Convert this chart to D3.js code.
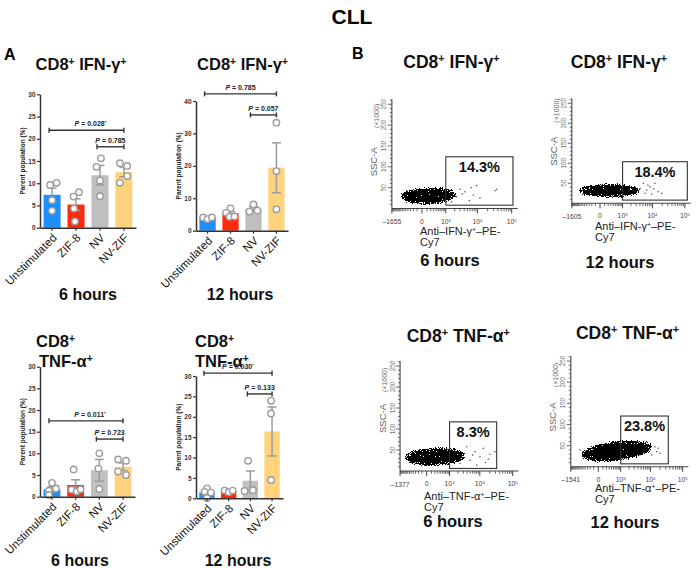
<!DOCTYPE html>
<html><head><meta charset="utf-8">
<script src="https://cdn.jsdelivr.net/npm/d3@7"></script>
<style>
body{margin:0;background:#fff}
svg{display:block;font-family:"Liberation Sans",Arial,Helvetica,sans-serif}
</style></head><body>
<svg id="chart" width="700" height="568"></svg>
<script>
// ---------------- data ----------------
const categories = ["Unstimulated", "ZIF-8", "NV", "NV-ZIF"];

const ifn6Means = [7.4, 5.2, 11.8, 12.5];
const ifn6Sem = [1.5, 1.3, 2.2, 1.05];
const ifn6Points = [[10.1, 9.6, 6.2, 3.8], [8.0, 7.0, 4.3, 1.4], [15.6, 13.7, 10.6, 7.1], [14.5, 13.9, 11.6, 10.1]];
const ifn6Sig = ["P = 0.028*", "P = 0.785"];

const ifn12Means = [4.0, 5.3, 6.7, 19.4];
const ifn12Sem = [0.2, 0.6, 0.7, 7.7];
const ifn12Points = [[4.1, 3.6, 4.1], [6.9, 5.5, 4.3, 4.4], [8.1, 5.9, 6.2], [33.3, 18.4, 6.6]];
const ifn12Sig = ["P = 0.785", "P = 0.057"];

const tnf6Means = [1.7, 2.7, 6.1, 6.9];
const tnf6Sem = [0.6, 1.2, 2.5, 0.9];
const tnf6Points = [[3.2, 1.9, 1.4, 0.4], [6.3, 1.6, 1.2, 1.7], [10.0, 6.5, 1.8], [8.6, 8.3, 5.8, 5.0]];
const tnf6Sig = ["P = 0.011*", "P = 0.723"];

const tnf12Means = [1.4, 1.8, 4.3, 16.4];
const tnf12Sem = [0.5, 0.13, 2.4, 6.0];
const tnf12Points = [[2.45, 1.6, 1.4, 0.05], [1.9, 1.5, 1.9], [9.2, 1.8, 2.0], [23.9, 20.8, 4.5]];
const tnf12Sig = ["P = 0.030*", "P = 0.133"];

const yTicks30 = [0, 5, 10, 15, 20, 25, 30];
const yTicks40 = [0, 10, 20, 30, 40];
const timeLabels = ["6 hours", "12 hours"];

// flow cytometry panels
const flowPercent = ["14.3%", "18.4%", "8.3%", "23.8%"];
const flowXMin = [-1655, -1605, -1377, -1541];
const flowXMajor = [0, 1000, 10000, 100000];
const flowXMajorSup = ["", "3", "4", "5"];
const flowYTicks = [50, 100, 150, 200, 250];
const flowGateX = [[1000, 109000], [1000, 118000], [1000, 32800], [1000, 36000]];
const flowGateY = [[8, 124], [8, 104], [6, 117], [7, 120]];
const flowCloudX = [[-1150, 2900], [-1250, 5400], [-1250, 4500], [-850, 15000]];
const flowCloudY = [[5, 56], [9, 54], [7, 61], [9, 66]];
const flowOutliers1 = [[9543, 55], [32800, 43], [7560, 32], [4242, 40], [5730, 19], [2333, 28], [2970, 46], [11900, 25], [1600, 16], [36800, 46], [3500, 35], [6500, 50]];
const flowOutliers2 = [[5134, 50], [8360, 41], [12000, 50], [5800, 25], [15100, 29], [19300, 25], [9440, 23], [4030, 37], [6580, 33], [7200, 45], [11000, 36]];
const flowOutliers3 = [[3870, 58], [7100, 46], [12800, 54], [20500, 40], [29200, 46], [10100, 34], [4920, 26], [18200, 28], [2340, 18], [8000, 14], [6000, 38], [15000, 20]];
const flowOutliers4 = [[6740, 47], [9700, 40], [15700, 36], [19900, 32], [4640, 28], [11000, 28], [5940, 56], [13900, 47], [-681, 40], [-488, 24], [8200, 52], [17500, 44]];
const flowOutliers = [flowOutliers1, flowOutliers2, flowOutliers3, flowOutliers4];

// ---------------- styles / layout ----------------
const barColors = ["#1e8fff", "#ff2a0a", "#bfbfbf", "#ffd27d"];
const svg = d3.select("#chart");

const defs = svg.append("defs");
const filt = defs.append("filter").attr("id", "speck").attr("filterUnits", "userSpaceOnUse")
  .attr("x", 0).attr("y", 0).attr("width", 700).attr("height", 568)
  .attr("color-interpolation-filters", "sRGB");
filt.append("feGaussianBlur").attr("in", "SourceAlpha").attr("stdDeviation", 3.0).attr("result", "b");
filt.append("feTurbulence").attr("type", "fractalNoise").attr("baseFrequency", 0.85).attr("numOctaves", 1).attr("seed", 11).attr("result", "n");
filt.append("feColorMatrix").attr("in", "n").attr("type", "matrix")
  .attr("values", "0 0 0 0 0  0 0 0 0 0  0 0 0 0 0  1 0 0 0 0").attr("result", "nA");
filt.append("feComposite").attr("in", "b").attr("in2", "nA").attr("operator", "arithmetic")
  .attr("k1", 3.0).attr("k2", 1.6).attr("k3", 0).attr("k4", -1.9).attr("result", "s");
filt.append("feComponentTransfer").attr("in", "s").attr("result", "t")
  .append("feFuncA").attr("type", "discrete").attr("tableValues", "0 1");
filt.append("feFlood").attr("flood-color", "#000").attr("result", "fl");
filt.append("feComposite").attr("in", "fl").attr("in2", "t").attr("operator", "in");

function rich(sel, parts) {
  parts.forEach(p => {
    const t = sel.append("tspan").text(p.t);
    if (p.sup) t.attr("baseline-shift", "super").attr("font-size", "62%");
    if (p.it) t.attr("font-style", "italic");
  });
  return sel;
}
const ifnParts = [{t: "CD8"}, {t: "+", sup: 1}, {t: " IFN-γ"}, {t: "+", sup: 1}];
const tnfParts = [{t: "CD8"}, {t: "+", sup: 1}, {t: " TNF-α"}, {t: "+", sup: 1}];

// Main title and panel letters
svg.append("text").attr("x", 352).attr("y", 24).attr("text-anchor", "middle")
  .attr("font-size", 21).attr("font-weight", "bold").text("CLL");
svg.append("text").attr("x", 4).attr("y", 60).attr("font-size", 16).attr("font-weight", "bold").text("A");
svg.append("text").attr("x", 352).attr("y", 58.5).attr("font-size", 16).attr("font-weight", "bold").text("B");

// ---------------- bar panels ----------------
function barPanel(L, means, sems, pts, sig) {
  const g = svg.append("g");
  const x = d3.scaleBand().domain(categories).range([L.x0, L.x1]).paddingInner(0.29).paddingOuter(0.15);
  const y = d3.scaleLinear().domain([0, L.yMax]).range([L.y0, L.yTop]);
  const cx = i => x(categories[i]) + x.bandwidth() / 2;

  g.selectAll("rect.bar").data(means).join("rect").attr("class", "bar")
    .attr("x", (d, i) => x(categories[i])).attr("y", d => y(d))
    .attr("width", x.bandwidth()).attr("height", d => L.y0 - y(d))
    .attr("fill", (d, i) => barColors[i]);

  // error bars
  const eg = g.append("g").attr("stroke", "#9b9b9b").attr("stroke-width", 1.5).attr("fill", "none");
  means.forEach((m, i) => {
    const top = y(m + sems[i]), bot = y(Math.max(0, m - sems[i]));
    eg.append("line").attr("x1", cx(i)).attr("x2", cx(i)).attr("y1", top).attr("y2", bot);
    eg.append("line").attr("x1", cx(i) - 4.5).attr("x2", cx(i) + 4.5).attr("y1", top).attr("y2", top);
    eg.append("line").attr("x1", cx(i) - 4.5).attr("x2", cx(i) + 4.5).attr("y1", bot).attr("y2", bot);
  });

  // points
  pts.forEach((arr, i) => {
    g.selectAll(null).data(arr).join("circle")
      .attr("cx", (d, j) => cx(i) + L.jitter[i][j]).attr("cy", d => y(d)).attr("r", 3.2)
      .attr("fill", "#fff").attr("stroke", "#9b9b9b").attr("stroke-width", 1.4);
  });

  // y axis
  const ya = g.append("g").attr("transform", `translate(${L.x0},0)`)
    .call(d3.axisLeft(y).tickValues(L.ticks).tickSize(3).tickSizeOuter(0).tickPadding(1.5));
  ya.select(".domain").attr("stroke", "#333").attr("stroke-width", 1.5);
  ya.selectAll(".tick line").attr("stroke", "#333").attr("stroke-width", 1.2);
  ya.selectAll(".tick text").attr("font-size", 6.5).attr("font-weight", "bold").attr("fill", "#333")
    .attr("font-family", "Liberation Sans, Arial, sans-serif");

  // x axis
  const xa = g.append("g").attr("transform", `translate(0,${L.y0})`)
    .call(d3.axisBottom(x).tickSize(3).tickSizeOuter(0).tickFormat(""));
  xa.select(".domain").attr("stroke", "#333").attr("stroke-width", 1.5);
  xa.selectAll(".tick line").attr("stroke", "#333").attr("stroke-width", 1.2);
  categories.forEach((c, i) => {
    g.append("text").attr("transform", `translate(${cx(i) + 2.5},${L.y0 + 8}) rotate(-45)`)
      .attr("text-anchor", "end").attr("dy", "0.35em").attr("font-size", 11.5).attr("fill", "#111").text(c);
  });

  // y label
  g.append("text").attr("transform", `translate(${L.x0 - 15.5},${(L.y0 + L.yTop) / 2}) rotate(-90)`)
    .attr("text-anchor", "middle").attr("font-size", 6.5).attr("font-weight", "bold").attr("fill", "#222")
    .text("Parent population (%)");

  // significance brackets
  L.sig.forEach((s, k) => {
    const yy = y(s.v), xa1 = cx(s.a) - 3, xb = cx(s.b);
    const bg = g.append("g").attr("stroke", "#333").attr("stroke-width", 1.4);
    bg.append("line").attr("x1", xa1).attr("x2", xb).attr("y1", yy).attr("y2", yy);
    bg.append("line").attr("x1", xa1).attr("x2", xa1).attr("y1", yy - 2.5).attr("y2", yy + 2.5);
    bg.append("line").attr("x1", xb).attr("x2", xb).attr("y1", yy - 2.5).attr("y2", yy + 2.5);
    const lab = sig[k];
    const t = g.append("text").attr("x", (xa1 + xb) / 2 + s.dx).attr("y", yy - 4)
      .attr("text-anchor", "middle").attr("font-size", 7).attr("font-weight", "bold").attr("fill", "#222");
    const star = lab.endsWith("*");
    rich(t, [{t: "P", it: 1}, {t: lab.slice(1, star ? -1 : undefined)}].concat(star ? [{t: "*", sup: 1}] : []));
  });

  // title
  L.title.forEach(tl => {
    const t = g.append("text").attr("x", tl.x).attr("y", tl.y).attr("text-anchor", tl.anchor)
      .attr("font-size", 16.5).attr("font-weight", "bold").attr("fill", "#111");
    rich(t, tl.parts);
  });
  g.append("text").attr("x", L.time.x).attr("y", L.time.y).attr("text-anchor", "middle")
    .attr("font-size", 16).attr("font-weight", "bold").attr("fill", "#111").text(L.time.t);
}

barPanel({x0: 40, x1: 136, y0: 227.7, yTop: 94.3, yMax: 30, ticks: yTicks30,
  jitter: [[4.5, -2, 0, 0], [3, -2.5, -2, -1], [1, -3.5, 0, 0], [-4, 3.3, 3.3, -4]],
  sig: [{a: 0, b: 3, v: 21.9, dx: 4}, {a: 2, b: 3, v: 18.2, dx: 0}],
  title: [{x: 81, y: 69.5, anchor: "middle", parts: ifnParts}],
  time: {x: 88, y: 300, t: timeLabels[0]}}, ifn6Means, ifn6Sem, ifn6Points, ifn6Sig);

barPanel({x0: 196, x1: 288, y0: 230.7, yTop: 101, yMax: 40, ticks: yTicks40,
  jitter: [[-4.5, 0, 4.3], [0, -4.5, -1, 4], [0, -4, 4], [0, 0, 0]],
  sig: [{a: 0, b: 3, v: 42.2, dx: 0}, {a: 2, b: 3, v: 35.7, dx: 0}],
  title: [{x: 242.5, y: 69.5, anchor: "middle", parts: ifnParts}],
  time: {x: 240, y: 300, t: timeLabels[1]}}, ifn12Means, ifn12Sem, ifn12Points, ifn12Sig);

barPanel({x0: 40, x1: 135, y0: 496.7, yTop: 366.7, yMax: 30, ticks: yTicks30,
  jitter: [[0, 4, -3, -3], [-2, -4, 1, 5], [0, -1, 0], [-5, 3, -5, 3]],
  sig: [{a: 0, b: 3, v: 17.5, dx: 4}, {a: 2, b: 3, v: 13.3, dx: 0}],
  title: [{x: 36, y: 347, anchor: "start", parts: [{t: "CD8"}, {t: "+", sup: 1}]},
          {x: 39, y: 367, anchor: "start", parts: [{t: "TNF-α"}, {t: "+", sup: 1}]}],
  time: {x: 80, y: 566, t: timeLabels[0]}}, tnf6Means, tnf6Sem, tnf6Points, tnf6Sig);

barPanel({x0: 196, x1: 283, y0: 498.3, yTop: 376, yMax: 30, ticks: yTicks30,
  jitter: [[0, -2.5, 4, 0], [-4, 0, 4], [-2.3, -5.7, 2.6], [-1, -1, -1]],
  sig: [{a: 0, b: 3, v: 30.7, dx: 0}, {a: 2, b: 3, v: 25.6, dx: 0}],
  title: [{x: 195, y: 346.7, anchor: "start", parts: [{t: "CD8"}, {t: "+", sup: 1}]},
          {x: 195, y: 366.7, anchor: "start", parts: [{t: "TNF-α"}, {t: "+", sup: 1}]}],
  time: {x: 238, y: 566, t: timeLabels[1]}}, tnf12Means, tnf12Sem, tnf12Points, tnf12Sig);

// ---------------- flow panels ----------------
const SYM_C = 258;
const fT = v => Math.sign(v) * Math.log1p(Math.abs(v) / SYM_C);
const X_MAX = 150000;

function flowPanel(L, i) {
  const g = svg.append("g");
  const xMin = flowXMin[i];
  const x = d3.scaleSymlog().constant(SYM_C).domain([xMin, X_MAX])
    .range([L.x0 + L.b * fT(xMin), L.x0 + L.b * fT(X_MAX)]);
  const y = d3.scaleLinear().domain([0, 262]).range([L.y0, L.y0 - 262 * L.k]);
  const ax = x(xMin);

  // cloud
  const cxL = x(flowCloudX[i][0]), cxR = x(flowCloudX[i][1]);
  const cyB = y(flowCloudY[i][0]), cyT = y(flowCloudY[i][1]);
  g.append("g").attr("filter", "url(#speck)")
    .append("ellipse").attr("cx", (cxL + cxR) / 2).attr("cy", (cyB + cyT) / 2)
    .attr("rx", (cxR - cxL) / 2).attr("ry", (cyB - cyT) / 2)
    .attr("transform", `rotate(${L.rot},${(cxL + cxR) / 2},${(cyB + cyT) / 2})`)
    .attr("fill", "#000");
  g.selectAll(null).data(flowOutliers[i]).join("rect")
    .attr("x", d => x(d[0]) - 0.6).attr("y", d => y(d[1]) - 0.6)
    .attr("width", 1.2).attr("height", 1.2).attr("fill", "#333");

  // gate
  const gx0 = x(flowGateX[i][0]), gx1 = x(flowGateX[i][1]);
  const gy0 = y(flowGateY[i][1]), gy1 = y(flowGateY[i][0]);
  g.append("rect").attr("x", gx0).attr("y", gy0).attr("width", gx1 - gx0).attr("height", gy1 - gy0)
    .attr("fill", "none").attr("stroke", "#333").attr("stroke-width", 1.1);
  g.append("text").attr("x", (gx0 + gx1) / 2).attr("y", gy0 + 15).attr("text-anchor", "middle")
    .attr("font-size", 14.5).attr("font-weight", "bold").attr("fill", "#111").text(flowPercent[i]);

  // axes
  const ac = "#444";
  g.append("line").attr("x1", ax).attr("x2", ax).attr("y1", y(0)).attr("y2", y(262)).attr("stroke", ac).attr("stroke-width", 1.1);
  g.append("line").attr("x1", ax).attr("x2", x(X_MAX)).attr("y1", y(0)).attr("y2", y(0)).attr("stroke", ac).attr("stroke-width", 1.1);
  // y ticks
  const yMinor = d3.range(10, 261, 10);
  g.selectAll(null).data(yMinor).join("line")
    .attr("x1", ax).attr("x2", d => ax - (d % 50 === 0 ? 4 : 2)).attr("y1", d => y(d)).attr("y2", d => y(d))
    .attr("stroke", ac).attr("stroke-width", 0.8);
  g.selectAll(null).data(flowYTicks).join("text")
    .attr("transform", d => `translate(${ax - 5.5},${y(d)}) rotate(-90)`).attr("text-anchor", "middle")
    .attr("font-size", 6.3).attr("fill", "#777").text(d => d);
  g.append("text").attr("transform", `translate(${ax - 14.5},${y(L.ssc)}) rotate(-90)`).attr("text-anchor", "middle")
    .attr("font-size", 9.5).attr("fill", "#666").text("SSC-A");
  g.append("text").attr("transform", `translate(${ax - 13},${y(L.k1000)}) rotate(-90)`).attr("text-anchor", "middle")
    .attr("font-size", 7).attr("fill", "#666").text("(×1000)");
  // x ticks
  const xMinor = d3.range(-1600, 1000, 100).filter(v => v > xMin && v !== 0)
    .concat(d3.range(2, 10).map(m => m * 1000), d3.range(2, 10).map(m => m * 10000));
  g.selectAll(null).data(xMinor).join("line")
    .attr("x1", d => x(d)).attr("x2", d => x(d)).attr("y1", y(0)).attr("y2", y(0) + 2.8)
    .attr("stroke", ac).attr("stroke-width", 0.8);
  g.selectAll(null).data(flowXMajor.concat([xMin])).join("line")
    .attr("x1", d => x(d)).attr("x2", d => x(d)).attr("y1", y(0)).attr("y2", y(0) + 5)
    .attr("stroke", ac).attr("stroke-width", 1);
  flowXMajor.forEach((v, k) => {
    const t = g.append("text").attr("x", x(v)).attr("y", y(0) + 15).attr("text-anchor", "middle")
      .attr("font-size", 6.8).attr("fill", "#444");
    if (v === 0) t.text("0");
    else rich(t, [{t: "10"}, {t: flowXMajorSup[k], sup: 1}]);
  });
  g.append("text").attr("x", ax).attr("y", y(0) + 15.5).attr("text-anchor", "middle")
    .attr("font-size", 6.8).attr("fill", "#444").text("–" + Math.abs(xMin));

  // labels
  const xl = g.append("text").attr("x", L.xl).attr("y", L.xlY).attr("font-size", 11).attr("fill", "#222");
  rich(xl, L.xParts);
  g.append("text").attr("x", L.xl).attr("y", L.xlY + 11).attr("font-size", 11).attr("fill", "#222").text("Cy7");
  const tt = g.append("text").attr("x", L.tx).attr("y", L.ty).attr("text-anchor", "middle")
    .attr("font-size", 17.5).attr("font-weight", "bold").attr("fill", "#111");
  rich(tt, L.tParts);
  g.append("text").attr("x", L.hx).attr("y", L.hy).attr("text-anchor", "middle")
    .attr("font-size", 16.5).attr("font-weight", "bold").attr("fill", "#111").text(L.hours);
}

const ifnAxisParts = [{t: "Anti–IFN-γ"}, {t: "+", sup: 1}, {t: "–PE-"}];
const tnfAxisParts = [{t: "Anti–TNF-α"}, {t: "+", sup: 1}, {t: "–PE-"}];

flowPanel({x0: 422, b: 15.04, y0: 208.5, k: 0.417, rot: -2, ssc: 112, k1000: 222,
  xl: 420, xlY: 235, xParts: ifnAxisParts, tx: 451.5, ty: 68.3, tParts: ifnParts,
  hx: 450, hy: 266, hours: timeLabels[0]}, 0);
flowPanel({x0: 600, b: 14.25, y0: 203.3, k: 0.4, rot: 0, ssc: 130, k1000: 232,
  xl: 595, xlY: 230, xParts: ifnAxisParts, tx: 619, ty: 68.3, tParts: ifnParts,
  hx: 620, hy: 267.5, hours: timeLabels[1]}, 1);
flowPanel({x0: 426.7, b: 14.42, y0: 471, k: 0.42, rot: -2, ssc: 125, k1000: 217,
  xl: 424, xlY: 499.5, xParts: tnfAxisParts, tx: 458.3, ty: 342.3, tParts: tnfParts,
  hx: 453, hy: 527, hours: timeLabels[0]}, 2);
flowPanel({x0: 598.3, b: 14.15, y0: 466.8, k: 0.423, rot: -7, ssc: 118, k1000: 217,
  xl: 595, xlY: 491.5, xParts: tnfAxisParts, tx: 627.5, ty: 339.3, tParts: tnfParts,
  hx: 625, hy: 527.5, hours: timeLabels[1]}, 3);
</script>
</body></html>
